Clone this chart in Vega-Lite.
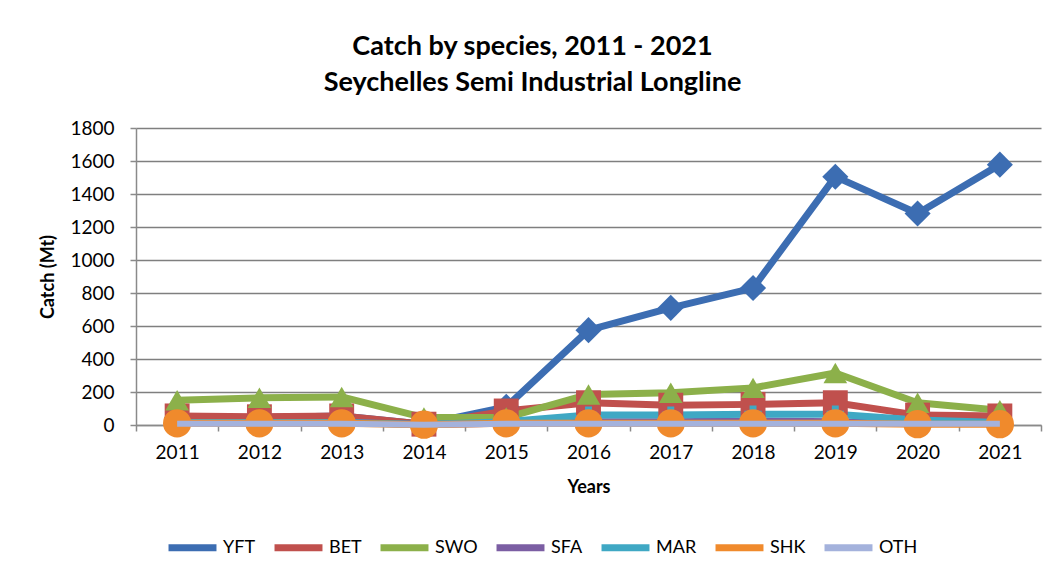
{
  "$schema": "https://vega.github.io/schema/vega-lite/v6.json",
  "width": 905,
  "height": 297,
  "autosize": {"type": "none"},
  "padding": {"left": 136, "top": 128, "right": 12, "bottom": 148},
  "background": "white",
  "title": {
    "text": ["Catch by species, 2011 - 2021", "Seychelles  Semi Industrial Longline"],
    "font": "Lato",
    "fontSize": 27,
    "fontWeight": "bold",
    "color": "black",
    "lineHeight": 36,
    "anchor": "middle",
    "dx": -56,
    "offset": 22
  },
  "config": {
    "view": {"stroke": null},
    "axis": {
      "labelFont": "Lato",
      "labelFontSize": 19,
      "labelColor": "black",
      "titleFont": "Lato",
      "titleFontSize": 18,
      "titleFontWeight": "bold",
      "titleColor": "black",
      "domainColor": "#8a8a8a",
      "domainWidth": 1.5,
      "tickColor": "#8a8a8a",
      "tickWidth": 1.5,
      "tickSize": 6
    },
    "point": {"filled": true, "opacity": 1}
  },
  "data": {
    "values": [
      {"year": "2011", "species": "YFT", "catch": 45},
      {"year": "2012", "species": "YFT", "catch": 45},
      {"year": "2013", "species": "YFT", "catch": 55},
      {"year": "2014", "species": "YFT", "catch": 5},
      {"year": "2015", "species": "YFT", "catch": 110},
      {"year": "2016", "species": "YFT", "catch": 575},
      {"year": "2017", "species": "YFT", "catch": 710},
      {"year": "2018", "species": "YFT", "catch": 830},
      {"year": "2019", "species": "YFT", "catch": 1505},
      {"year": "2020", "species": "YFT", "catch": 1282},
      {"year": "2021", "species": "YFT", "catch": 1578},
      {"year": "2011", "species": "BET", "catch": 55},
      {"year": "2012", "species": "BET", "catch": 50},
      {"year": "2013", "species": "BET", "catch": 55},
      {"year": "2014", "species": "BET", "catch": 5},
      {"year": "2015", "species": "BET", "catch": 85},
      {"year": "2016", "species": "BET", "catch": 135},
      {"year": "2017", "species": "BET", "catch": 120},
      {"year": "2018", "species": "BET", "catch": 125},
      {"year": "2019", "species": "BET", "catch": 135},
      {"year": "2020", "species": "BET", "catch": 60},
      {"year": "2021", "species": "BET", "catch": 55},
      {"year": "2011", "species": "SWO", "catch": 150},
      {"year": "2012", "species": "SWO", "catch": 165},
      {"year": "2013", "species": "SWO", "catch": 170},
      {"year": "2014", "species": "SWO", "catch": 45},
      {"year": "2015", "species": "SWO", "catch": 45},
      {"year": "2016", "species": "SWO", "catch": 185},
      {"year": "2017", "species": "SWO", "catch": 195},
      {"year": "2018", "species": "SWO", "catch": 225},
      {"year": "2019", "species": "SWO", "catch": 315},
      {"year": "2020", "species": "SWO", "catch": 135},
      {"year": "2021", "species": "SWO", "catch": 90},
      {"year": "2011", "species": "SFA", "catch": 15},
      {"year": "2012", "species": "SFA", "catch": 15},
      {"year": "2013", "species": "SFA", "catch": 15},
      {"year": "2014", "species": "SFA", "catch": 3},
      {"year": "2015", "species": "SFA", "catch": 10},
      {"year": "2016", "species": "SFA", "catch": 20},
      {"year": "2017", "species": "SFA", "catch": 20},
      {"year": "2018", "species": "SFA", "catch": 25},
      {"year": "2019", "species": "SFA", "catch": 20},
      {"year": "2020", "species": "SFA", "catch": 10},
      {"year": "2021", "species": "SFA", "catch": 10},
      {"year": "2011", "species": "MAR", "catch": 15},
      {"year": "2012", "species": "MAR", "catch": 15},
      {"year": "2013", "species": "MAR", "catch": 15},
      {"year": "2014", "species": "MAR", "catch": 3},
      {"year": "2015", "species": "MAR", "catch": 20},
      {"year": "2016", "species": "MAR", "catch": 60},
      {"year": "2017", "species": "MAR", "catch": 60},
      {"year": "2018", "species": "MAR", "catch": 65},
      {"year": "2019", "species": "MAR", "catch": 65},
      {"year": "2020", "species": "MAR", "catch": 30},
      {"year": "2021", "species": "MAR", "catch": 15},
      {"year": "2011", "species": "SHK", "catch": 10},
      {"year": "2012", "species": "SHK", "catch": 10},
      {"year": "2013", "species": "SHK", "catch": 10},
      {"year": "2014", "species": "SHK", "catch": 2},
      {"year": "2015", "species": "SHK", "catch": 10},
      {"year": "2016", "species": "SHK", "catch": 10},
      {"year": "2017", "species": "SHK", "catch": 10},
      {"year": "2018", "species": "SHK", "catch": 10},
      {"year": "2019", "species": "SHK", "catch": 10},
      {"year": "2020", "species": "SHK", "catch": 5},
      {"year": "2021", "species": "SHK", "catch": 5},
      {"year": "2011", "species": "OTH", "catch": 8},
      {"year": "2012", "species": "OTH", "catch": 8},
      {"year": "2013", "species": "OTH", "catch": 8},
      {"year": "2014", "species": "OTH", "catch": 2},
      {"year": "2015", "species": "OTH", "catch": 8},
      {"year": "2016", "species": "OTH", "catch": 8},
      {"year": "2017", "species": "OTH", "catch": 8},
      {"year": "2018", "species": "OTH", "catch": 8},
      {"year": "2019", "species": "OTH", "catch": 8},
      {"year": "2020", "species": "OTH", "catch": 8},
      {"year": "2021", "species": "OTH", "catch": 8}
    ]
  },
  "encoding": {
    "x": {
      "field": "year",
      "type": "ordinal",
      "bandPosition": 0.5,
      "scale": {"type": "band", "paddingInner": 0, "paddingOuter": 0},
      "axis": {"title": "Years", "labelAngle": 0, "tickBand": "extent", "labelPadding": 12, "titlePadding": 16}
    },
    "y": {
      "field": "catch",
      "type": "quantitative",
      "scale": {"domain": [0, 1800], "nice": false},
      "axis": {
        "title": "Catch (Mt)",
        "format": "d",
        "values": [0, 200, 400, 600, 800, 1000, 1200, 1400, 1600, 1800],
        "gridColor": "#7f7f7f",
        "gridWidth": 1.5,
        "labelPadding": 16,
        "titlePadding": 12
      }
    },
    "color": {
      "field": "species",
      "type": "nominal",
      "scale": {
        "domain": ["YFT", "BET", "SWO", "SFA", "MAR", "SHK", "OTH"],
        "range": ["#3c6db2", "#c0504d", "#8cb04a", "#7b5ea3", "#3fa8c4", "#f08a2c", "#a4b2dc"]
      },
      "legend": {
        "orient": "none",
        "legendX": 29,
        "legendY": 392,
        "direction": "horizontal",
        "title": null,
        "symbolType": "stroke",
        "symbolStrokeWidth": 7,
        "symbolSize": 2300,
        "symbolOpacity": 1,
        "labelFont": "Lato",
        "labelFontSize": 18,
        "labelColor": "black",
        "labelOffset": 3,
        "columnPadding": 4,
        "encode": {
          "symbols": {
            "update": {
              "stroke": {"scale": "color", "field": "value"},
              "strokeWidth": {"value": 7},
              "strokeOpacity": {"value": 1},
              "opacity": {"value": 1}
            }
          }
        }
      }
    }
  },
  "layer": [
    {
      "transform": [{"filter": "datum.species != 'OTH'"}],
      "mark": {"type": "line", "strokeWidth": 7, "strokeJoin": "round"}
    },
    {
      "transform": [{"filter": "datum.species == 'YFT'"}],
      "mark": {"type": "point", "shape": "diamond", "size": 680}
    },
    {
      "transform": [{"filter": "datum.species == 'BET'"}],
      "mark": {"type": "point", "shape": "square", "size": 620}
    },
    {
      "transform": [{"filter": "datum.species == 'SWO'"}],
      "mark": {"type": "point", "shape": "triangle-up", "size": 560}
    },
    {
      "transform": [{"filter": "datum.species == 'SFA'"}],
      "mark": {"type": "point", "shape": "cross", "size": 300}
    },
    {
      "transform": [{"filter": "datum.species == 'MAR'"}],
      "mark": {"type": "point", "shape": "cross", "size": 300}
    },
    {
      "transform": [{"filter": "datum.species == 'SHK'"}],
      "mark": {"type": "point", "shape": "circle", "size": 800}
    },
    {
      "transform": [{"filter": "datum.species == 'OTH'"}],
      "mark": {"type": "line", "strokeWidth": 6}
    }
  ]
}
